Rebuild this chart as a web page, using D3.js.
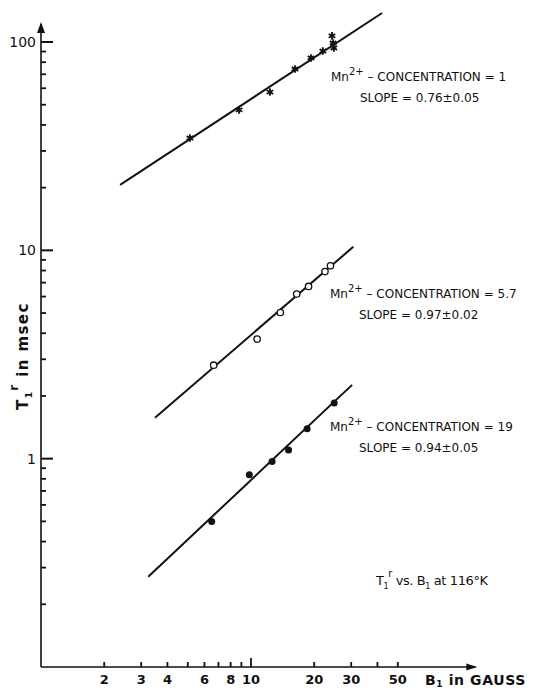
<!DOCTYPE html>
<html>
<head>
<meta charset="utf-8">
<script src="https://cdn.jsdelivr.net/npm/d3@7"></script>
<style>
  body { margin: 0; background: #fff; }
  svg text { font-family: "DejaVu Sans", sans-serif; fill: #111; }
</style>
</head>
<body>
<svg id="chart" width="534" height="691"></svg>
<script>
// measured points, B1 (gauss) vs T1r (msec)
const conc1B = [5.12, 8.77, 12.3, 16.2, 19.3, 22.0, 24.3, 24.6, 24.8];
const conc1T = [34.6, 47.2, 57.5, 74.2, 83.8, 90.5, 107, 98.9, 93.6];
const conc57B = [6.64, 10.7, 13.8, 16.5, 18.8, 22.5, 23.9];
const conc57T = [2.81, 3.75, 5.03, 6.17, 6.71, 7.91, 8.43];
const conc19B = [6.50, 9.82, 12.6, 15.1, 18.5, 24.9];
const conc19T = [0.50, 0.838, 0.97, 1.10, 1.39, 1.85];

// fitted lines (end points)
const fit1B = [2.38, 42.1];
const fit1T = [20.6, 137.8];
const fit57B = [3.49, 30.7];
const fit57T = [1.57, 10.4];
const fit19B = [3.24, 30.3];
const fit19T = [0.271, 2.26];

const xTickVals = [2, 3, 4, 5, 6, 7, 8, 9, 10, 20, 30, 40, 50];
const xTickLabels = [2, 3, 4, 6, 8, 10, 20, 30, 50];
const yMajor = [1, 10, 100];
const yMinor = [0.2, 0.3, 0.4, 0.5, 0.6, 0.7, 0.8, 0.9,
                2, 3, 4, 5, 6, 7, 8, 9,
                20, 30, 40, 50, 60, 70, 80, 90];

const svg = d3.select("#chart");

const x = d3.scaleLog().domain([1, 100]).range([41, 461]);
const y = d3.scaleLog().domain([0.1, 100]).range([667, 42]);

const zip = (a, b) => a.map((v, i) => ({b: v, t: b[i]}));
const x0 = x(1), y0 = y(0.1);

// y ticks, pointing into the plot
svg.append("g").selectAll("line").data(yMajor).join("line")
  .attr("x1", x0).attr("x2", x0 + 12)
  .attr("y1", d => y(d)).attr("y2", d => y(d))
  .attr("stroke", "#111").attr("stroke-width", 2);
svg.append("g").selectAll("line").data(yMinor).join("line")
  .attr("x1", x0).attr("x2", x0 + 5)
  .attr("y1", d => y(d)).attr("y2", d => y(d))
  .attr("stroke", "#111").attr("stroke-width", 1.8);

// x ticks, pointing up
svg.append("g").selectAll("line").data(xTickVals).join("line")
  .attr("x1", d => x(d)).attr("x2", d => x(d))
  .attr("y1", y0).attr("y2", d => y0 - (d === 10 ? 9 : 5))
  .attr("stroke", "#111").attr("stroke-width", 1.8);

// axis lines with arrow heads
svg.append("path")
  .attr("d", `M${x0},${y0}V${y(122)}`)
  .attr("stroke", "#111").attr("stroke-width", 1.6);
svg.append("path")
  .attr("d", `M${x0 - 4},${y(122) + 9}L${x0},${y(122) - 2}L${x0 + 4},${y(122) + 9}Z`)
  .attr("fill", "#111");
svg.append("path")
  .attr("d", `M${x0},${y0}H${x(117)}`)
  .attr("stroke", "#111").attr("stroke-width", 1.4);
svg.append("path")
  .attr("d", `M${x(117) - 9},${y0 - 3.5}L${x(117) + 2},${y0}L${x(117) - 9},${y0 + 3.5}Z`)
  .attr("fill", "#111");

// tick labels
svg.append("g").selectAll("text").data(yMajor).join("text")
  .attr("x", x0 - 5).attr("y", d => y(d)).attr("dy", "0.35em")
  .attr("text-anchor", "end").attr("font-size", 14)
  .text(d3.format("d"));

svg.append("g").selectAll("text").data(xTickLabels).join("text")
  .attr("x", d => x(d)).attr("y", y0 + 17)
  .attr("text-anchor", "middle").attr("font-size", 13).attr("font-weight", "bold")
  .text(d => d);

// fit lines
const line = d3.line().x(d => x(d.b)).y(d => y(d.t));
[[fit1B, fit1T], [fit57B, fit57T], [fit19B, fit19T]].forEach(([bs, ts]) => {
  svg.append("path").datum(zip(bs, ts))
    .attr("d", line).attr("fill", "none")
    .attr("stroke", "#111").attr("stroke-width", 2);
});

// markers
const star = d3.symbol().type(d3.symbolAsterisk).size(40);
svg.append("g").selectAll("path").data(zip(conc1B, conc1T)).join("path")
  .attr("transform", d => `translate(${x(d.b)},${y(d.t)})`)
  .attr("d", star).attr("fill", "none").attr("stroke", "#111").attr("stroke-width", 1.8);

svg.append("g").selectAll("circle").data(zip(conc57B, conc57T)).join("circle")
  .attr("cx", d => x(d.b)).attr("cy", d => y(d.t)).attr("r", 3.2)
  .attr("fill", "#fff").attr("stroke", "#111").attr("stroke-width", 1.3);

svg.append("g").selectAll("circle").data(zip(conc19B, conc19T)).join("circle")
  .attr("cx", d => x(d.b)).attr("cy", d => y(d.t)).attr("r", 3.5)
  .attr("fill", "#111");

// annotations
function concLabel(xp, yp, val, slope) {
  const t = svg.append("text").attr("x", xp).attr("y", yp).attr("font-size", 12);
  t.append("tspan").text("Mn");
  t.append("tspan").attr("dy", -6).attr("font-size", 10).text("2+");
  t.append("tspan").attr("dy", 6).text(" \u2013 CONCENTRATION = " + val);
  svg.append("text").attr("x", xp + 29).attr("y", yp + 21)
    .attr("font-size", 12).text("SLOPE = " + slope);
}
concLabel(331, 81, "1", "0.76\u00b10.05");
concLabel(330, 298, "5.7", "0.97\u00b10.02");
concLabel(330, 431, "19", "0.94\u00b10.05");

// title
const title = svg.append("text").attr("x", 376).attr("y", 585)
  .attr("font-size", 13).attr("letter-spacing", -0.4);
title.append("tspan").text("T");
title.append("tspan").attr("dy", 4).attr("font-size", 8).text("1");
title.append("tspan").attr("dy", -12).attr("font-size", 10).text("r");
title.append("tspan").attr("dy", 8).text(" vs. B");
title.append("tspan").attr("dy", 4).attr("font-size", 8).text("1");
title.append("tspan").attr("dy", -4).text(" at 116\u00b0K");

// axis titles
const xl = svg.append("text").attr("x", 425).attr("y", 685)
  .attr("font-size", 14).attr("font-weight", "bold").attr("letter-spacing", 0.6);
xl.append("tspan").text("B");
xl.append("tspan").attr("dy", 2).attr("font-size", 9).text("1");
xl.append("tspan").attr("dy", -2).text(" in GAUSS");

const yl = svg.append("text").attr("transform", "translate(28,410) rotate(-90)")
  .attr("font-size", 15).attr("font-weight", "bold").attr("letter-spacing", 1.4);
yl.append("tspan").text("T");
yl.append("tspan").attr("dy", 4).attr("font-size", 9).text("1");
yl.append("tspan").attr("dy", -14).attr("font-size", 12).text("r");
yl.append("tspan").attr("dy", 10).text(" in msec");
</script>
</body>
</html>
